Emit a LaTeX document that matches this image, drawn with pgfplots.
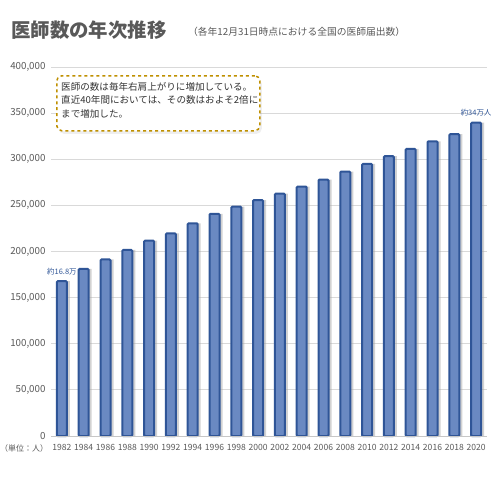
\documentclass[border=0pt]{standalone}
\usepackage{pgfplots}
\pgfplotsset{compat=1.18}
\usepackage{fontspec}
\setmainfont{Noto Sans CJK JP}
\usetikzlibrary{shadows}
\definecolor{barfill}{HTML}{6A89C2}
\definecolor{barline}{HTML}{2F5597}
\definecolor{txtgray}{HTML}{595959}
\definecolor{gridgray}{HTML}{D9D9D9}
\definecolor{gold}{HTML}{BF9000}
\begin{document}
\begin{tikzpicture}
\useasboundingbox (0,0) rectangle (495bp,-495bp);
\fill[white] (0,0) rectangle (495bp,-495bp);
\node[anchor=west, text=txtgray, font=\fontsize{19.5}{22}\selectfont\bfseries, inner sep=0] at (11bp,-30bp) {医師数の年次推移};
\node[anchor=west, text=txtgray, font=\fontsize{9.8}{12}\selectfont, inner sep=0] at (188bp,-32bp) {（各年12月31日時点における全国の医師届出数）};
\begin{axis}[
  at={(51bp,-436bp)}, anchor=south west,
  scale only axis, width=436bp, height=369bp,
  ymin=0, ymax=400000,
  xmin=-0.5, xmax=19.5,
  ytick={0,50000,100000,150000,200000,250000,300000,350000,400000},
  yticklabels={0,{50,000},{100,000},{150,000},{200,000},{250,000},{300,000},{350,000},{400,000}},
  xtick={0,...,19},
  xticklabels={1982,1984,1986,1988,1990,1992,1994,1996,1998,2000,2002,2004,2006,2008,2010,2012,2014,2016,2018,2020},
  scaled y ticks=false,
  yticklabel style={font=\fontsize{9.8}{10}\selectfont, text=txtgray, xshift=-2bp},
  xticklabel style={font=\fontsize{8.6}{10}\selectfont, text=txtgray, yshift=-5bp},
  ymajorgrids, grid style={gridgray, line width=0.8bp},
  axis line style={draw=none},
  major tick length=0pt,
  tick style={draw=none},
  clip=false,
]
\addplot[ybar, bar width=10bp, bar shift=3bp, fill=black!35, draw=none, fill opacity=0.5] coordinates {
(0,167952) (1,181101) (2,191346) (3,201658) (4,211797) (5,219704) (6,230519) (7,240908) (8,248611) (9,255792)
(10,262687) (11,270371) (12,277927) (13,286699) (14,295049) (15,303268) (16,311205) (17,319480) (18,327210) (19,339623)};
\addplot[ybar, bar width=10bp, fill=barfill, draw=barline, line width=2bp, rounded corners=1bp] coordinates {
(0,167952) (1,181101) (2,191346) (3,201658) (4,211797) (5,219704) (6,230519) (7,240908) (8,248611) (9,255792)
(10,262687) (11,270371) (12,277927) (13,286699) (14,295049) (15,303268) (16,311205) (17,319480) (18,327210) (19,339623)};
\draw[gridgray!80!gray, line width=0.8bp] (axis cs:-0.5,0) -- (axis cs:19.5,0);
\node[text=barline, font=\fontsize{7.5}{8}\selectfont, anchor=south, inner sep=0] at ([yshift=6bp]axis cs:0,167952) {約16.8万};
\node[text=barline, font=\fontsize{7.5}{8}\selectfont, anchor=south, inner sep=0] at ([yshift=6bp]axis cs:19,339623) {約34万人};
\end{axis}
\node[anchor=west, text=txtgray, font=\fontsize{8}{10}\selectfont, inner sep=0] at (0bp,-448bp) {（単位：人）};
\node[draw=gold, dashed, line width=1.5bp, rounded corners=5bp, fill=white, drop shadow={opacity=0.12, shadow xshift=2bp, shadow yshift=-3bp},
  minimum width=203bp, minimum height=55bp, anchor=north west, inner sep=0] at (56bp,-75bp) {};
\node[anchor=north west, text=black!80, font=\fontsize{9.6}{13.5}\selectfont, align=left, inner sep=0] at (61bp,-82bp)
  {医師の数は毎年右肩上がりに増加している。\\直近40年間においては、その数はおよそ2倍に\\まで増加した。};
\end{tikzpicture}
\end{document}
